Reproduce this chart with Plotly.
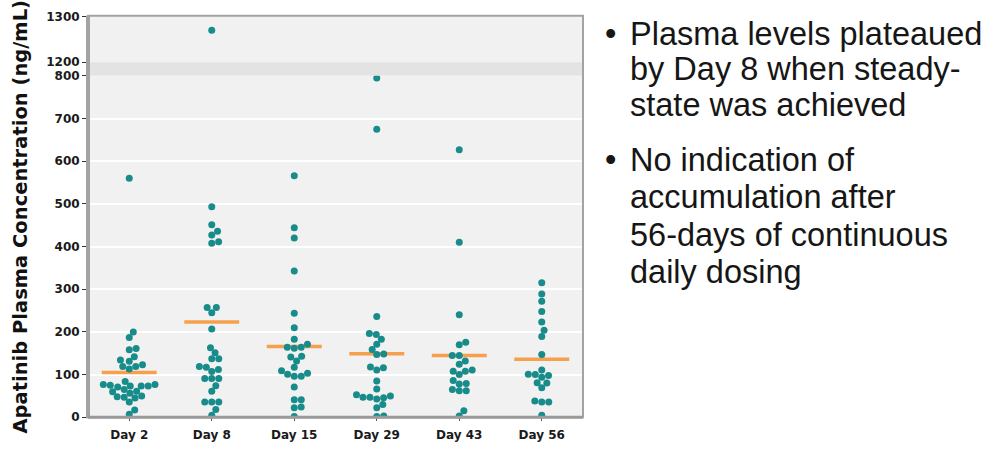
import math
import plotly.graph_objects as go

# ---------------- data ----------------
categories = ["Day 2", "Day 8", "Day 15", "Day 29", "Day 43", "Day 56"]

day2 = [560, 200, 187, 161, 158, 142, 134, 131, 123, 119, 119, 113, 84, 77, 77,
        75, 73, 73, 73, 71, 65, 61, 60, 56, 50, 48, 47, 45, 36, 17, 7]
day8 = [1270, 493, 451, 436, 427, 411, 408, 257, 257, 245, 207, 163, 151, 137,
        137, 119, 117, 112, 107, 91, 91, 91, 74, 61, 36, 36, 36, 18, 5]
day15 = [566, 444, 420, 343, 244, 210, 183, 171, 164, 164, 162, 143, 141, 132,
         117, 109, 103, 101, 96, 96, 71, 41, 41, 24, 22, 2]
day29 = [795, 675, 236, 196, 194, 183, 171, 159, 148, 147, 118, 116, 111, 85,
         66, 53, 50, 47, 47, 46, 43, 30, 22, 3, 2]
day43 = [627, 410, 240, 176, 170, 145, 145, 132, 124, 111, 108, 108, 100, 86,
         79, 78, 65, 62, 62, 15, 3]
day56 = [315, 289, 272, 248, 223, 204, 189, 147, 111, 101, 100, 98, 94, 81,
         80, 69, 38, 36, 36, 5]
series = [day2, day8, day15, day29, day43, day56]

medians = [105, 223, 166, 149, 145, 136]

lower_ticks = [0, 100, 200, 300, 400, 500, 600, 700, 800]
upper_ticks = [1200, 1300]

y_title = "Apatinib Plasma Concentration (ng/mL)"
bullet_lines = [
    ["Plasma levels plateaued", "by Day 8 when steady-", "state was achieved"],
    ["No indication of", "accumulation after", "56-days of continuous", "daily dosing"],
]

# ---------------- layout constants ----------------
W, H = 993, 465
X0, X1 = 88, 583            # plot area left / right (px)
LOW_B, LOW_T = 423, 71      # lower panel bottom (0) / top (800)
UP_B, UP_T = 57, 9          # upper panel bottom (1200) / top
LOW_RANGE = [0, 800]
UP_RANGE = [1200, 1302]

TEAL = "#178c8a"
ORANGE = "#f6a04d"
FRAME = "#a3a3a3"
PLOT_BG = "#f1f1f1"
BAND_BG = "#e3e3e3"
DOT_D = 7.0                 # swarm spacing in px
CAT_PX = (X1 - X0) / len(categories)
HALF_MED = 0.333


def yp(px):
    return (H - px) / H


def xp(px):
    return px / W


def to_px(v):
    if v <= LOW_RANGE[1]:
        return LOW_B - (v - LOW_RANGE[0]) * (LOW_B - LOW_T) / (LOW_RANGE[1] - LOW_RANGE[0])
    return UP_B - (v - UP_RANGE[0]) * (UP_B - UP_T) / (UP_RANGE[1] - UP_RANGE[0])


def swarm(vals, d):
    """Simple beeswarm: offsets (px) closest to the centre without overlap."""
    order = sorted(range(len(vals)), key=lambda i: vals[i])
    placed = []
    offs = [0.0] * len(vals)
    for i in order:
        y = to_px(vals[i])
        cands = [0.0]
        for (px_, py_) in placed:
            dy = y - py_
            if abs(dy) < d:
                dx = math.sqrt(d * d - dy * dy)
                cands += [px_ + dx, px_ - dx]
        cands.sort(key=lambda c: (abs(c), -c))
        for c in cands:
            if all((c - a) ** 2 + (y - b) ** 2 >= d * d - 1e-6 for a, b in placed):
                offs[i] = c
                break
        placed.append((offs[i], y))
    return offs


fig = go.Figure()

lx, ly, ux, uy = [], [], [], []
for ci, vals in enumerate(series):
    offs = swarm(vals, DOT_D)
    for v, o in zip(vals, offs):
        if v <= LOW_RANGE[1]:
            lx.append(ci + o / CAT_PX)
            ly.append(v)
        else:
            ux.append(ci + o / CAT_PX)
            uy.append(v)

# median lines
for ci, m in enumerate(medians):
    fig.add_trace(go.Scatter(x=[ci - HALF_MED, ci + HALF_MED], y=[m, m], mode="lines",
                             line=dict(color=ORANGE, width=3.5), xaxis="x", yaxis="y",
                             hoverinfo="skip", showlegend=False))

fig.add_trace(go.Scatter(x=lx, y=ly, mode="markers", xaxis="x", yaxis="y",
                         marker=dict(color=TEAL, size=7, line=dict(width=0)),
                         showlegend=False))
fig.add_trace(go.Scatter(x=ux, y=uy, mode="markers", xaxis="x2", yaxis="y2",
                         marker=dict(color=TEAL, size=7, line=dict(width=0)),
                         showlegend=False))

tick_font = dict(family="DejaVu Sans", size=12, color="#1a1a1a", weight="bold")

fig.update_layout(
    width=W, height=H,
    margin=dict(l=0, r=0, t=0, b=0),
    paper_bgcolor="white",
    plot_bgcolor=PLOT_BG,
    xaxis=dict(domain=[xp(X0), xp(X1)], range=[-0.5, len(categories) - 0.5],
               tickvals=list(range(len(categories))), ticktext=categories,
               ticks="outside", ticklen=3, tickcolor="#555", showgrid=False,
               zeroline=False, anchor="y", tickfont=tick_font, showline=False,
               ticklabelstandoff=3),
    xaxis2=dict(domain=[xp(X0), xp(X1)], range=[-0.5, len(categories) - 0.5],
                matches="x", anchor="y2", showticklabels=False, ticks="",
                showgrid=False, zeroline=False),
    yaxis=dict(domain=[yp(LOW_B), yp(LOW_T)], range=LOW_RANGE, tickvals=lower_ticks,
               ticks="outside", ticklen=5, tickcolor="#333", tickwidth=1,
               gridcolor="white", gridwidth=1.6, zeroline=False, anchor="x",
               tickfont=tick_font, showline=False),
    yaxis2=dict(domain=[yp(UP_B), yp(UP_T)], range=UP_RANGE, tickvals=upper_ticks,
                ticks="outside", ticklen=5, tickcolor="#333", tickwidth=1,
                showgrid=False, zeroline=False, anchor="x2",
                tickfont=tick_font, showline=False),
    font=dict(family="DejaVu Sans"),
)

shapes = [
    # break band between the two panels
    dict(type="rect", xref="paper", yref="paper", x0=xp(X0), x1=xp(X1),
         y0=yp(LOW_T), y1=yp(UP_B), fillcolor=BAND_BG, line=dict(width=0), layer="below"),
    # frame
    dict(type="rect", xref="paper", yref="paper", x0=xp(X0), x1=xp(X1),
         y0=yp(LOW_B), y1=yp(UP_T), line=dict(color=FRAME, width=2), fillcolor="rgba(0,0,0,0)"),
    # thick left axis
    dict(type="line", xref="paper", yref="paper", x0=xp(X0), x1=xp(X0),
         y0=yp(LOW_B + 1), y1=yp(UP_T), line=dict(color=FRAME, width=4)),
    # bottom axis
    dict(type="line", xref="paper", yref="paper", x0=xp(X0), x1=xp(X1),
         y0=yp(LOW_B), y1=yp(LOW_B), line=dict(color="#9a9a9a", width=3)),
]
fig.update_layout(shapes=shapes)

annotations = [
    dict(text=y_title, xref="paper", yref="paper", x=xp(20), y=yp(216),
         textangle=-90, showarrow=False, xanchor="center", yanchor="middle",
         font=dict(family="DejaVu Sans", size=19.5, color="#111", weight="bold")),
]

text_font = dict(family="Liberation Sans, Arial", size=32.5, color="#161616")
line_y = [[28, 64, 101], [158, 196, 235, 273]]
for group, ys in zip(bullet_lines, line_y):
    annotations.append(dict(text="•", xref="paper", yref="paper", x=xp(610), y=yp(ys[0]),
                            showarrow=False, xanchor="center", yanchor="middle",
                            font=text_font))
    for line, y in zip(group, ys):
        annotations.append(dict(text=line, xref="paper", yref="paper", x=xp(628), y=yp(y),
                                showarrow=False, xanchor="left", yanchor="middle",
                                font=text_font))
fig.update_layout(annotations=annotations)

fig.write_html("out.html",
               config={"displayModeBar": False},
               post_script="document.body.style.margin='0';document.body.style.padding='0';")
